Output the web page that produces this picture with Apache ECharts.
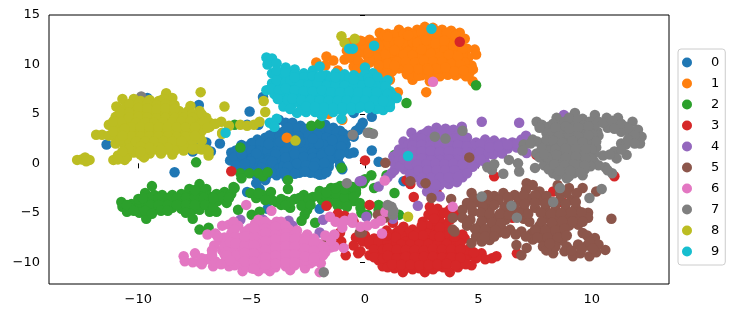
<!DOCTYPE html>
<html><head><meta charset="utf-8">
<script src="https://cdn.jsdelivr.net/npm/echarts@6/dist/echarts.min.js"></script>
<style>html,body{margin:0;padding:0;background:#fff}#c{width:746px;height:318px}</style>
</head><body><div id="c"></div>
<script>
const names = ['0','1','2','3','4','5','6','7','8','9'];
const colors = ['#1f77b4','#ff7f0e','#2ca02c','#d62728','#9467bd','#8c564b','#e377c2','#7f7f7f','#bcbd22','#17becf'];
const xTicks = [-10,-5,0,5,10];
const yTicks = [-10,-5,0,5,10,15];

const pts0 = [[-8.4,-0.9],[-9.6,6.6],[-7.33,5.9],[-5.09,5.24],[-4.5,6.7],[-7.3,2.1],[-7,2.1],[-6.8,1.2],[-6.4,2],[-7.6,1.2],[-8.5,1.2],[-11.4,1.9],
[-0.1,4.1],[-0.5,5.1],[0.3,4.7],[-0.5,1.1],[0.6,0.15],[-0.7,1],[-1.1,-0.2],[-3.8,4.4],[-3.5,4.1],[-4.7,3.9],[-5.2,3.9],[-0.4,3.3],[-0.2,3.7],[-0.6,2.9],[-0.5,2.7],[-0.3,3.4],[-1,-0.6],[-1.2,0.4],
[-3.2,4.1],[-2.85,3.8],[-2.5,3.4],[-2.1,3.7],[-1.75,3.9],[-1.4,3.6],[-1.1,3.3],
[-3.9,3.2],[-3.55,3.3],[-3.1,3.1],[-2.75,3],[-2.3,2.9],[-1.9,3.1],[-1.5,2.8],[-1.15,2.7],[-0.85,2.6],
[-4.75,2.4],[-4.4,2.6],[-4.05,2.5],[-3.65,2.4],[-3.25,2.3],[-2.8,2.5],[-2.45,2.2],[-2.05,2.4],[-1.6,2.1],[-1.2,2.2],[-0.85,1.9],
[-5.2,1.7],[-5.5,1.5],[-4.85,1.7],[-4.5,1.6],[-4.1,1.7],[-3.75,1.5],[-3.35,1.7],[-2.95,1.5],[-2.5,1.6],[-2.15,1.4],[-1.7,1.5],[-1.3,1.4],[-0.95,1.2],
[-5.9,1.1],[-5.6,0.9],[-5.2,0.9],[-4.85,0.8],[-4.45,0.9],[-4.05,0.7],[-3.7,0.8],[-3.3,0.8],[-2.9,0.7],[-2.5,0.8],[-2.1,0.7],[-1.75,0.6],[-1.35,0.7],
[-5.95,0.3],[-5.55,0.2],[-5.2,0.1],[-4.8,0],[-4.4,0.1],[-4,-0.1],[-3.6,0.1],[-3.2,-0.1],[-2.8,0],[-2.4,-0.1],[-2,-0.1],[-1.6,0],
[-5.4,-0.5],[-5,-0.6],[-4.6,-0.7],[-4.2,-0.7],[-3.8,-0.6],[-3.4,-0.7],[-3,-0.6],[-2.6,-0.6],[-2.2,-0.7],[-1.8,-0.7],
[-4.8,-1.2],[-4.35,-1.3],[-3.9,-1.2],[-3.5,-1.2],[-2.15,-1],[-1.85,-1.1],[-4.8,-2],[-4.4,-1.7],[-4.65,-2.6],[-5.2,-2.9],[-3.45,-1.5],[-4.3,-4.6],[0.3,1.3],[-2,-4.6],[1.7,-1.8]];
const fill0 = [[-3,3.55],[-2.65,3.5],[-2.3,3.6],[-1.95,3.5],[-1.55,3.4],[-1.25,3.1],[-0.95,3],
[-4.2,2.85],[-3.75,2.8],[-3.35,2.85],[-2.95,2.75],[-2.5,2.8],[-2.1,2.85],[-1.7,2.6],[-1.3,2.5],[-1,2.3],
[-5,2.05],[-4.6,2.05],[-4.2,2.1],[-3.85,2],[-3.45,2],[-3.05,2],[-2.65,2.05],[-2.25,1.9],[-1.85,1.9],[-1.4,1.8],[-1.05,1.7],
[-5.7,1.3],[-5.35,1.25],[-5,1.3],[-4.65,1.25],[-4.3,1.3],[-3.9,1.2],[-3.55,1.15],[-3.15,1.2],[-2.75,1.15],[-2.3,1.05],[-1.9,1.05],[-1.5,1.05],[-1.1,0.9],
[-5.75,0.65],[-5.4,0.55],[-5,0.5],[-4.65,0.45],[-4.25,0.5],[-3.85,0.35],[-3.5,0.45],[-3.1,0.35],[-2.7,0.4],[-2.3,0.3],[-1.9,0.3],[-1.55,0.35],
[-5.7,-0.2],[-5.2,-0.25],[-4.85,-0.3],[-4.4,-0.3],[-4,-0.4],[-3.6,-0.3],[-3.2,-0.35],[-2.8,-0.3],[-2.4,-0.35],[-2,-0.4],[-1.6,-0.35],
[-5,-0.95],[-4.6,-1],[-4.1,-0.95],[-3.7,-0.9],[-3.3,-1],[-2.9,-0.95],[-2.4,-0.95],[-2,-1.15],[-1.7,-0.9]];
const more0 = [[-3.4,3.6],[-3.75,2.2],[-4.25,1.95],[-2.85,2.15],[-3.15,2.55],[-2.05,2],[-2.3,2.5],[-1.45,2.35],[-4.8,1],[-5.05,0.2],[-4.25,0.25],[-3.95,0.95],[-3.5,0.6],[-3.1,0.95],[-2.7,0.65],[-2.3,0.55],[-1.9,0.85],[-1.55,1.3],[-4.5,-0.05],[-4.1,0.2],[-3.4,-0.35],[-3,0],[-2.6,-0.2],[-2.2,0.05],[-1.8,0.05],[-5.3,-0.05],[-4.55,-0.45],[-3.55,-0.95],[-3.1,-1.05],[-2.65,-0.85],[-2.25,-0.3],[-5.45,0.95],[-5.45,1.85]];

const pts1 = [[-2.15,10.2],[-1.7,10.8],[-1.4,10.4],[-1.75,9.9],[-1.2,9.4],[-0.9,10.5],[-0.67,12.2],[-0.8,11.4],[-0.55,10.6],[-0.5,9.8],[-0.2,9.2],[-0.95,8.9],[-0.3,11.9],[-1,7],
[-3.45,2.6],[-1,4.4],[-1.6,5],[0.9,7.9],[1.45,7.2],[1.1,8.45],[2.7,7.2],[2.86,8.3],[4.75,8.3],[-0.1,12.3],[0.2,12.5],
[0.65,13.2],[1,13.1],[1.5,13.5],[1.9,13.3],[2.3,13.5],[2.64,13.8],[3,13.7],[3.4,13.5],[3.8,13.4],[4.18,13.2],[4.4,12.6],
[0,11.5],[0.35,11.9],[0.7,12.4],[1.1,12.5],[1.5,12.7],[1.9,12.6],[2.3,12.8],[2.7,12.9],[3.1,12.7],[3.5,12.8],[3.9,12.5],[4.2,12.2],
[0.1,10.9],[0.5,11],[0.9,11.6],[1.3,11.8],[1.7,11.7],[2.1,11.9],[2.5,12],[2.9,11.8],[3.3,11.9],[3.7,11.6],[4.1,11.4],[4.5,11.6],[4.84,11.5],[4.9,11],
[0.2,10.2],[0.6,10.4],[1,10.6],[1.4,10.9],[1.8,10.8],[2.2,11],[2.6,11.1],[3,10.9],[3.4,11],[3.8,10.7],[4.2,10.5],[4.55,10.7],
[0.7,9.6],[1.1,9.8],[1.5,10],[1.9,10.1],[2.3,10.2],[2.7,10.2],[3.1,10],[3.5,10],[3.9,9.9],[4.3,9.8],[4.7,9.9],[4.76,9.5],
[0.8,9.1],[1.2,9.3],[1.75,9.5],[2.15,9.3],[2.55,9.4],[3.05,9.2],[3.45,9.3],[3.85,9.1],[4.25,9.1],[4.6,9.1],[4,8.9],[3.3,8.8],[2.1,8.45],[2.5,8.9],[1.85,9]];
const fill1 = [[0.85,12.95],[1.25,13],[1.7,13.05],[2.1,13],[2.5,13.2],[2.85,13.25],[3.2,13.1],[3.6,13.1],[4,12.9],
[0.5,12.2],[0.9,12],[1.3,12.2],[1.7,12.15],[2.1,12.3],[2.5,12.4],[2.9,12.3],[3.3,12.3],[3.7,12.1],[4.05,11.9],
[0.3,11.4],[0.7,11.5],[1.1,11.2],[1.5,11.3],[1.9,11.3],[2.3,11.45],[2.7,11.5],[3.1,11.4],[3.5,11.4],[3.9,11.1],[4.3,11],
[0.35,10.6],[0.8,10.9],[1.2,10.2],[1.6,10.4],[2,10.5],[2.4,10.6],[2.8,10.6],[3.2,10.5],[3.6,10.4],[4,10.2],[4.4,10.2],
[0.9,10],[1.3,9.6],[1.7,9.9],[2.1,9.75],[2.5,9.8],[2.9,9.65],[3.3,9.6],[3.7,9.5],[4.1,9.5],[4.5,9.5],
[1,9.2],[1.5,9.6],[2,8.9],[2.35,8.85],[2.75,9],[3.65,8.95],[4.45,8.8],
[-0.4,11],[-0.2,11.2],[-0.7,10.9],[-0.3,10.3],[0,10],[-0.35,9.5],[0,11.8],[-0.2,12.4]];
const more1 = [[0.6,11.9],[1,12.8],[1.5,12.3],[1.9,12.95],[2.3,12.2],[2.7,12.45],[3.1,12.15],[3.5,12.4],[3.9,11.9],[4.3,11.6],[0.5,10.7],[0.9,11],[1.3,11.45],[1.7,11],[2.1,10.95],[2.5,11.5],[2.9,11.1],[3.3,10.75],[3.7,11],[4.1,10.8],[1,10.1],[1.4,10.3],[1.8,10.25],[2.2,10.2],[2.6,10.4],[3,10.25],[3.4,10.25],[3.8,10.05],[4.2,9.95],[1.3,9.9],[1.9,9.55],[2.35,9.55],[2.75,9.6],[3.15,9.6],[3.55,9.7],[3.95,9.3],[4.35,9.4],[2.8,9.4],[0.2,10.6],[0.15,11.2],[0.6,9.9]];

const pts2 = [[-10.7,-4.4],[-10.75,-3.9],[-10.5,-4.9],[-10.3,-4.1],[-10,-4.4],[-10,-3.6],[-9.95,-5],[-9.7,-3],[-9.65,-4.1],[-9.65,-5.6],[-9.4,-2.3],[-9.3,-3.2],[-9.3,-3.9],[-9.3,-4.6],[-8.95,-3.2],[-8.9,-3.9],[-8.9,-4.4],[-8.5,-3.2],[-8.5,-3.8],[-8.5,-4.5],[-8.1,-3.1],[-8.1,-3.9],[-8.1,-4.6],[-7.75,-2.6],[-7.7,-3.4],[-7.7,-4.2],[-7.6,-4.7],[-7.3,-2.1],[-7.3,-3],[-7.3,-3.8],[-7.3,-4.7],[-7,-2.6],[-6.9,-3.3],[-6.85,-4.2],[-6.55,-3.1],[-6.5,-3.8],[-6.2,-2.9],[-6.1,-4],[-5.9,-3.1],[-5.75,-2.5],
[-7.6,-5.6],[-7.3,-6.7],[-6.9,-6.5],[-6.85,-4.9],[-6.55,-4.9],[-7.45,0.1],[-5.5,1.6],[-5.75,3.9],[-2.37,3.8],[-2,4],[-1.04,-0.45],[-5.5,-1],[-5.1,-1],[-4.7,-1],[-4.5,-1.3],[-4.3,-0.9],[-3.4,-1.7],[-3.4,-2.6],[-5.45,-1.5],[-5.8,-2.4],[-5.6,-4.7],[-5,-5.2],[-4.65,-4.9],[-2.66,-5.2],[-2.8,-5.8],[-2.55,-4.7],[-2.2,-6],[-1.85,-9.2],[-5.05,-3],[-4.8,-3.5],[-4.5,-3.2],[-4.15,-2.9],[-3.9,-3.9],[-3.5,-3.8],[-3.1,-3.6],[-2.7,-3.9],[-2.3,-3.4],[-2.7,-3.2],[-2,-2.8],[-1.9,-3.7],[-1.5,-2.5],[-1.5,-3.4],[-1.1,-2.3],[-1.1,-3],[-1.2,-3.8],[-0.8,-2.2],[-0.7,-3.2],[-0.4,-3],[-0.5,-3.8],[-0.9,-4],[-3.7,-4.2],[-3.3,-4.5],[-0.4,-2.7],[0.28,-1.2],[0,-1.6],[-0.1,-2],[1.3,-3],[-0.23,-4],[0.6,-4.2],[0.6,-4.7],[-0.16,-5],[1.5,-5.2],[0.95,-1.2],[0.2,3.1],[4.9,7.9],[1.83,6.1],[1.3,0.85],[0.1,-5.2],[0.4,-2.5]];
const fill2 = [[-9.5,-3.5],[-9.1,-3.5],[-8.7,-3.5],[-8.3,-3.5],[-7.9,-3.5],[-7.5,-3.4],[-7.1,-3.5],
[-10.5,-4.2],[-9.8,-3.5],[-9.45,-4.2],[-9.1,-4.2],[-8.7,-4.2],[-8.3,-4.2],[-7.9,-4.2],[-7.5,-4.2],[-7.05,-4.2],[-6.7,-4.4],
[-10.2,-4.8],[-9.7,-4.8],[-9.4,-5.1],[-9,-4.8],[-8.7,-4.8],[-7.9,-5],[-7.5,-2.7],[-6.3,-3.4],[-6.7,-3.5],[-6,-3.5],
[-4.1,-3.7],[-3.7,-3.6],[-3.3,-3.9],[-2.9,-3.5],[-2.5,-3.6],[-2.1,-3.3],[-1.7,-3.3],[-1.3,-3],[-0.9,-3.4],[-1.7,-2.9],[-0.9,-2.6],[-0.55,-2.4],[-1.3,-2.5],[-0.5,-3.4],[-3.5,-4.2],[-2.8,-4.3],[-2.4,-4.2],[-1.6,-4],[-1.2,-4.3],[-0.8,-4.4],[-0.2,-4.5],[-4.7,-3],[-4.4,-3.7]];

const pts3 = [[-5.9,-0.8],[-1.7,-4.3],[-0.3,-9.1],[0,0.3],[0.2,-4.2],[2.15,-3.4],[1.83,-1.7],[5.7,-1.3],[7.56,0.86],[4.18,12.3],[6.7,-9.1],[4.4,-7.6],[11,-1.3],[3.15,-2.85],[6.5,-5.5],[8.7,-3.9],[8.3,-2.85],[2,-2.1],
[-1.2,-5.1],[-0.9,-5.3],[-0.5,-5.9],[-1.35,-7.3],[-1.05,-7.9],[-0.85,-9.3],[-0.4,-7.5],[-0.1,-7.9],[-0.5,-8.3],[-0.2,-8.9],[-1.1,-7],
[2.86,-4.4],[3.2,-4.6],[3.74,-4.7],[4.1,-5.2],[2.8,-5.2],[3.3,-5.3],[3.75,-5.7],[2.55,-5.9],[3,-6],[3.4,-6.1],[1.23,-6],[1.7,-6.4],[2.1,-6.7],[2.5,-6.7],[3,-6.8],[3.45,-6.9],[3.9,-6.9],[4.3,-7.2],[0.95,-6.8],[1.4,-7],[0,-7.3],[0.4,-7.6],[0.8,-7.5],[1.2,-7.7],[1.6,-7.7],[2,-7.5],[2.4,-7.7],[2.8,-7.5],[3.2,-7.7],[3.6,-7.6],[4,-7.8],
[0.2,-8.2],[0.6,-8.3],[1,-8.3],[1.4,-8.5],[1.8,-8.4],[2.2,-8.4],[2.6,-8.5],[3,-8.3],[3.4,-8.5],[3.8,-8.4],[4.2,-8.5],[4.6,-8.6],[0.2,-9.3],[0.6,-9.1],[1,-9.1],[1.4,-9.3],[1.8,-9.2],[2.2,-9.3],[2.6,-9.2],[3,-9.2],[3.4,-9.3],[3.8,-9.2],[4.2,-9.3],[4.6,-9.3],[5.14,-9.1],[5.6,-9.6],[5.8,-9.4],[5.3,-9.7],[4.9,-9.6],[0.6,-9.8],[1,-10],[1.4,-10],[1.8,-10],[2.2,-10.1],[2.6,-10],[3,-10],[3.4,-10],[3.8,-9.9],[4.2,-10.1],[4.7,-10.3],[0.78,-10.4],[1.67,-11],[1.3,-10.6],[2.1,-10.7],[2.64,-11],[3,-10.7],[3.45,-10.5],[3.74,-11],[4.1,-10.5]];
const fill3 = [[3,-4.9],[3.5,-5],[3.05,-5.6],[3.6,-6.4],[2.75,-6.3],[1.9,-7.1],[2.3,-7.1],[2.75,-7.1],[3.2,-7.2],[3.7,-7.3],[1.15,-7.2],[1.6,-7.3],
[0.2,-7.9],[0.6,-7.9],[1,-7.9],[1.4,-8],[1.8,-7.9],[2.2,-8],[2.6,-8.1],[3,-7.9],[3.4,-8],[3.8,-8],[4.2,-8.1],
[0.4,-8.7],[0.8,-8.7],[1.2,-8.9],[1.6,-8.8],[2,-8.9],[2.4,-8.8],[2.8,-8.8],[3.2,-8.9],[3.6,-8.8],[4,-8.9],[4.4,-8.9],[4.8,-9],
[0.4,-9.5],[0.8,-9.6],[1.2,-9.6],[1.6,-9.6],[2,-9.7],[2.4,-9.6],[2.8,-9.6],[3.2,-9.6],[3.6,-9.6],[4,-9.6],[4.4,-9.7],
[1,-10.5],[1.5,-10.4],[1.9,-10.5],[2.4,-10.6],[2.8,-10.5],[3.2,-10.4],[3.6,-10.4],[4,-9.9],[4.45,-10.2]];
const more3 = [[1.5,-6.8],[2.5,-6.3],[3.3,-6.5],[3.05,-7.35],[2.55,-7.3],[2.15,-7.35],[1.35,-7.45],[0.95,-7.3],[1.6,-8.2],[2,-8.2],[2.4,-8.2],[2.8,-8.15],[3.2,-8.2],[3.6,-8.15],[1,-8.6],[1.4,-8.7],[1.8,-8.75],[2.2,-8.75],[2.6,-8.8],[3,-8.65],[3.4,-8.7],[3.8,-8.7],[4.2,-8.75],[1,-9.35],[1.4,-9.6],[1.8,-9.45],[2.2,-9.5],[2.6,-9.45],[3,-9.45],[3.4,-9.55],[3.8,-9.5],[4.2,-9.55],[1.2,-10.2],[1.6,-10.25],[2,-10.25],[2.4,-10.3],[2.8,-10.25],[3.2,-10.2],[3.6,-10.15],[4,-10.3],[3.3,-7.4],[3.95,-7.4]];

const pts4 = [[5.15,4.2],[6.8,4.1],[8.77,4.9],[2.05,3.1],[4.27,3.7],[7.13,1.05],[2.33,-4.3],[3.3,-3.36],[2.74,-2.85],[1.23,-5.6],[0.6,-2.35],[-0.14,-1.77],[0.06,-5.4],[1.17,-1],[-5.5,-5.7],[-3.37,-5.8],[-1.85,-5.7],[-3.2,-6.3],[-4.5,-5.7],[-2,-7],[-0.23,-1.8],[1.23,-4.8],[1.3,-0.7],[1,-1.4],
[2.8,3.3],[3.15,3.6],[3.55,3.5],[3.9,3.4],[2.5,2.9],[2.9,2.8],[3.3,2.9],[3.7,2.8],[4.1,2.9],[4.5,2.6],[1.7,2.2],[2.1,2.2],[2.5,2.2],[2.9,2.1],[3.3,2.2],[3.7,2.1],[4.1,2.2],[4.5,2],[4.9,2.1],[5.3,2.4],[5.7,2.3],[6.1,2.1],[6.5,2.1],[6.9,2.4],[7.1,2.8],[1.5,1.4],[1.9,1.5],[2.3,1.4],[2.7,1.5],[3.1,1.4],[3.5,1.5],[3.9,1.4],[4.3,1.4],[4.7,1.5],[5.1,1.6],[5.5,1.3],[5.9,1.4],[6.3,1.5],[6.7,1.6],[1.25,0.7],[1.65,0.8],[2.05,0.7],[2.45,0.8],[2.85,0.6],[3.25,0.7],[3.65,0.8],[4.05,0.7],[4.45,0.7],[4.85,0.8],[5.25,0.6],[5.65,0.9],[6.05,1],[1.3,0],[1.7,0.1],[2.1,-0.1],[2.5,0.1],[2.9,-0.1],[3.3,0],[3.7,-0.1],[4.1,0],[4.5,-0.1],[4.9,0],[5.3,0.1],[1.75,-0.6],[2.15,-0.8],[2.55,-0.6],[2.95,-0.8],[3.35,-0.7],[3.75,-0.7],[4.15,-0.8],[4.55,-0.6],[2.3,-1.4],[2.7,-1.5],[3.1,-1.4],[3.5,-1.5],[3.9,-1.3],[4.3,-1.4],[2.5,-2],[2.9,-2.1],[3.3,-2.2],[3.7,-2.1],[4.05,-1.9],[3.05,-2.6]];
const fill4 = [[2.3,2.6],[2.7,2.6],[3.1,2.5],[3.5,2.5],[3.9,2.5],[4.3,2.4],[2.7,3.1],[3.35,3.2],[1.9,1.85],[2.3,1.8],[2.7,1.8],[3.1,1.8],[3.5,1.8],[3.9,1.8],[4.3,1.7],[4.7,1.8],[5.1,1.95],[5.5,1.85],[5.9,1.85],[6.3,1.8],[6.7,2],
[1.45,1.05],[1.85,1.1],[2.25,1.05],[2.65,1.1],[3.05,1.05],[3.45,1.1],[3.85,1.05],[4.25,1.05],[4.65,1.15],[5.05,1.15],[5.45,1],
[1.5,0.4],[1.9,0.35],[2.3,0.4],[2.7,0.35],[3.1,0.35],[3.5,0.35],[3.9,0.35],[4.3,0.35],[4.7,0.35],[5.1,0.4],
[1.55,-0.3],[1.95,-0.4],[2.35,-0.35],[2.75,-0.4],[3.15,-0.35],[3.55,-0.4],[3.95,-0.4],[4.35,-0.4],[4.75,-0.35],
[2,-1.1],[2.5,-1.05],[2.9,-1.1],[3.3,-1.05],[3.7,-1.05],[4.1,-1.05],[4.5,-1],[2.7,-1.85],[3.1,-1.8],[3.5,-1.85],[3.9,-1.7]];
const more4 = [[2.5,2.5],[2.9,2.45],[3.3,2.55],[3.7,2.45],[4.1,2.55],[2.1,1.8],[2.5,1.85],[2.9,1.8],[3.3,1.85],[3.7,1.75],[4.1,1.85],[4.5,1.7],[2.1,1.25],[2.5,1.2],[2.9,1.25],[3.3,1.15],[3.7,1.2],[4.1,1.1],[4.5,1.15],[1.7,0.45],[2.1,0.4],[2.5,0.5],[2.9,0.3],[3.3,0.35],[3.7,0.4],[4.1,0.35],[4.5,0.35],[1.95,-0.1],[2.3,-0.1],[2.7,-0.1],[3.1,0],[3.5,-0.1],[3.9,-0.05],[4.3,-0.1],[2.35,-0.75],[2.75,-0.7],[3.15,-0.7],[3.55,-0.7],[3.95,-0.7],[2.5,-1.45],[2.9,-1.45],[3.3,-1.45],[3.7,-1.4],[4.1,-1.35],[3.1,-2.15],[5.5,1.6],[5.9,1.7],[6.3,1.9]];

const pts5 = [[10.87,-5.6],[10.2,-2.85],[4.6,0.6],[0.9,0.05],[2,-1.8],[2.67,-2],[2.93,-3.5],[3.8,-3.6],[3.87,-5.5],[3.87,-6.7],[3.95,-6.9],[4.7,-8.05],[-0.13,-7],[0.87,-5.5],[0.57,-5.2],[-1.7,-7.5],[-0.23,-7],[0.33,8.35],
[7.13,-2],[7.4,-2.2],[7.7,-2.85],[6.1,-3],[4.7,-3],[8.6,-3],[9.6,-2.5],[9,-2.5],[8.5,-2.2],[7.1,-2.7],[6.6,-3.2],[5.7,-3.3],
[4.5,-4],[5,-3.9],[5.45,-3.9],[5.9,-3.7],[6.35,-4],[6.8,-3.8],[7.25,-3.6],[7.75,-3.7],[8.2,-3.9],[9.1,-3.7],[4.3,-4.7],[4.75,-4.9],[5.5,-4.7],[6.1,-4.9],[6.5,-4.7],[7,-4.6],[7.5,-4.5],[7.95,-4.6],[8.4,-4.7],[8.85,-4.6],[9.3,-4.5],[9.84,-5],[4.3,-5.5],[4.65,-5.7],[5.3,-5.5],[5.75,-5.6],[6.2,-5.7],[8,-5.5],[8.45,-5.6],[8.9,-5.4],[9.35,-5.5],[9.84,-5.5],[7,-5.6],[7.25,-5.9],[4.5,-6.3],[5.1,-6.2],[5.55,-6.4],[6,-6.5],[6.4,-6.7],[7.7,-6.3],[8.15,-6.5],[8.6,-6.3],[9,-6.3],[9.4,-6.2],[5,-7],[5.45,-7.1],[5.9,-7],[6.9,-6.9],[7.35,-7.1],[7.8,-7.1],[8.25,-7.2],[8.7,-7],[9.6,-7.05],[9.8,-7.3],[4.9,-7.4],[5.5,-7.75],[5.15,-7.9],[7.4,-7.7],[7.85,-7.8],[8.3,-7.9],[8.7,-7.8],[10.14,-7.55],[10.3,-8.2],[9.8,-8.3],[9.4,-8.2],[8.9,-8.4],[7.85,-8.4],[8.3,-9.1],[8.8,-8.9],[9.17,-9.4],[9.5,-9.1],[9.9,-9.4],[10.2,-9],[10.6,-8.75],[6.68,-8.25],[7.13,-8.55],[6.9,-9.3],[8,-8.8]];
const fill5 = [[5.2,-3.4],[5.4,-3.2],[6.3,-3.4],[7,-3.2],[7.5,-3.2],[8,-3.3],[8.9,-3],[9.35,-3],[4.8,-3.5],[8.6,-3.7],
[4.7,-4.4],[5.2,-4.4],[5.7,-4.2],[6.15,-4.4],[6.6,-4.3],[7.05,-4.1],[7.5,-4],[7.95,-4.1],[8.4,-4.2],[8.85,-4.1],[9.3,-3.9],
[5.1,-5],[5.5,-5.1],[5.95,-5.1],[6.35,-5.2],[6.8,-5.05],[7.2,-5.1],[7.75,-5],[8.2,-5.1],[8.65,-5.05],[9.1,-4.95],[9.55,-4.95],
[4.5,-6],[5.15,-5.85],[5.6,-6],[6,-6.05],[7.8,-5.9],[8.25,-6],[8.7,-5.85],[9.15,-5.85],[9.6,-5.9],
[4.85,-6.6],[5.3,-6.7],[5.75,-6.75],[6.2,-7.1],[6.65,-7.2],[7.1,-7.4],[7.5,-6.7],[7.95,-6.8],[8.4,-6.8],[8.8,-6.6],
[5.3,-7.4],[5.7,-7.4],[7.6,-7.5],[8.05,-7.5],[8.5,-7.5],[8.9,-7.3],[9.9,-7.9],[10.05,-8.6],[9.55,-8.7],[9.1,-8.8],[8.4,-8.4],[8.15,-8.1]];

const pts6 = [[-8,-9.4],[-7.95,-9.9],[-7.6,-10],[-7.3,-10],[-7.5,-9.1],[-7,-9.7],[-6.7,-10.4],[-6.6,-9.9],[-6.95,-7.2],[-6.6,-7.1],[-6.3,-6.3],[-6,-6.2],[-6.65,-8.3],[-6.35,-7.8],[-6.3,-8.8],[-6.1,-9.6],[-6,-10.4],[-5.9,-7.1],[-5.95,-8.3],[-5.9,-9.1],[-5.6,-6.3],[-5.5,-7.5],[-5.5,-8.4],[-5.55,-9.4],[-5.55,-10.2],[-5.4,-10.9],[-5.1,-6.6],[-5.05,-7.4],[-5.1,-8.2],[-5.05,-9],[-5.1,-9.9],[-5,-10.6],[-4.7,-5.7],[-4.65,-6.5],[-4.65,-7.4],[-4.6,-8.3],[-4.65,-9.2],[-4.65,-10.1],[-4.7,-10.9],[-4.2,-6.2],[-4.2,-7],[-4.2,-7.8],[-4.2,-8.7],[-4.2,-9.5],[-4.2,-10.2],[-4.2,-10.9],[-3.9,-5.9],[-3.75,-6.7],[-3.75,-7.6],[-3.75,-8.4],[-3.75,-9.2],[-3.75,-10],[-3.7,-5.9],[-3.35,-6.7],[-3.3,-7.4],[-3.3,-8.2],[-3.3,-9],[-3.3,-9.8],[-3.3,-10.8],[-3,-6.8],[-2.85,-7.6],[-2.9,-8.4],[-2.9,-9.2],[-2.9,-10],[-2.65,-10.6],[-2.55,-7.2],[-2.45,-7.9],[-2.45,-8.7],[-2.5,-9.5],[-2.4,-10.1],[-2.05,-8.1],[-2.05,-8.9],[-2.05,-9.7],[-1.95,-10.1],[-1.7,-8.6],[-1.5,-8.5],[-1.75,-9],[-1.35,-8.4],
[-5.24,-4.2],[-4.13,-4.8],[-2,-11],[-0.94,-8.55],[-1.75,-7.3],[-1.35,-7.2],[-1.5,-7.8],[-1.55,-5.4],[-1.3,-5.9],[-1,-6.5],[-0.9,-5.8],[-0.55,-6],[-0.2,-6.4],[0.1,-6.3],[0.45,-6.1],[0.7,-5.8],[-0.55,-5.5],[-5.8,-5.9],[0.87,-1.74],[0.75,-7.1],[3.87,-4.4],[0.9,-4.9],[3,8.25]];
const fill6 = [[-6.2,-7.5],[-6.2,-8.4],[-6.2,-9.2],[-6.2,-10],[-5.75,-6.7],[-5.75,-7.5],[-5.75,-8.8],[-5.75,-9.7],[-5.75,-10.3],[-5.3,-6.9],[-5.3,-7.8],[-5.3,-8.7],[-5.3,-9.5],[-5.3,-10.3],
[-4.85,-6.1],[-4.85,-7],[-4.85,-7.8],[-4.85,-8.7],[-4.85,-9.5],[-4.85,-10.3],[-4.4,-5.9],[-4.4,-6.6],[-4.4,-7.4],[-4.4,-8.3],[-4.4,-9.1],[-4.4,-9.9],[-4.4,-10.6],
[-3.95,-6.4],[-3.95,-7.2],[-3.95,-8.1],[-3.95,-8.9],[-3.95,-9.8],[-3.95,-10.5],[-3.5,-6.3],[-3.5,-7.1],[-3.5,-7.9],[-3.5,-8.8],[-3.5,-9.6],[-3.5,-10.4],
[-3.1,-7.2],[-3.1,-8],[-3.1,-8.8],[-3.1,-9.6],[-3.1,-10.3],[-2.65,-7.5],[-2.65,-8.2],[-2.65,-9],[-2.65,-9.8],[-2.25,-7.6],[-2.25,-8.4],[-2.25,-9.2],[-2.25,-9.9],[-1.85,-8.4],[-1.85,-9.3],
[-6.75,-8.8],[-6.75,-9.3],[-7.2,-9.6],[-7.2,-10.2],[-6.35,-10.2],[-6.5,-7.4]];
const more6 = [[-5.95,-7.95],[-5.7,-8.1],[-5.7,-9.3],[-5.3,-8.25],[-5.3,-9.05],[-5.3,-9.9],[-5.3,-7.4],[-4.9,-7.4],[-4.9,-8.25],[-4.9,-9.1],[-4.9,-9.95],[-4.4,-7],[-4.4,-7.85],[-4.4,-8.7],[-4.4,-9.5],[-3.95,-7.65],[-3.95,-8.5],[-3.95,-9.35],[-3.95,-10.15],[-3.5,-7.5],[-3.5,-8.35],[-3.5,-9.2],[-3.5,-10],[-3.1,-7.6],[-3.1,-8.4],[-3.1,-9.2],[-3.1,-10],[-2.65,-7.85],[-2.65,-8.6],[-2.65,-9.4],[-2.25,-8],[-2.25,-8.8],[-2.25,-9.55],[-4.9,-6.55],[-6.1,-8.95],[-6.1,-9.3],[-5.95,-9.8],[-4.9,-10.65],[-4.4,-10.25]];

const pts7 = [[7.57,4.2],[7.8,3.9],[8.1,3.7],[8.45,4.6],[8.8,4.2],[9.26,5.1],[9.6,4.5],[10.14,4.9],[10.3,4.2],[10.66,4.6],[11.16,4.6],[11,4],[11.8,4.2],[11.5,3.7],[12.04,3.4],[12.2,2.7],[12.13,2],[11.7,2.9],[11.3,3.2],[10.7,3.6],[9.2,3.9],[11.54,0.86],[11.3,2],[11.5,1.9],[11,1.2],[11.1,0.5],[10.5,0.8],[8,3.1],[8.45,3.3],[8.9,3.3],[9.35,3.2],[9.8,3.4],[10.25,3.2],[8.2,2.6],[8.65,2.4],[9.1,2.6],[9.55,2.4],[10,2.5],[10.3,2.8],[7,1.9],[7.4,2.4],[7.8,2],[8.1,1.9],[8.55,1.7],[9,1.8],[9.45,1.7],[9.9,1.8],[10.2,1.6],[7.57,1],[8,1],[8.4,1.1],[8.85,0.9],[9.3,1.1],[9.75,0.9],[10.1,1],[7.5,-0.46],[8,0.2],[8.4,0.2],[8.85,0.1],[9.3,0.3],[9.7,0.1],[10.1,0.2],[7.9,-0.2],[8.4,-0.5],[8.85,-0.6],[9.3,-0.5],[9.7,-0.6],[8.3,-1],[8.73,-1],[9.2,-1],[9.6,-1.2],[8.9,-1.5],[10.3,-0.2],[10.6,-0.4],[10.9,-1],[10.7,-0.7],
[8.6,-2.5],[8.3,-3.9],[9.9,-3.5],[10.44,-2.6],[6.46,-4.3],[6.7,-5.5],[5.15,-3.36],[6.1,-1.06],[6.8,-0.83],[5.6,-0.66],[5.4,-0.4],[5.7,-0.1],[6.35,0.35],[6.75,0],[6.95,1.3],[1.17,-4.4],[1.23,-5.2],[1,-4.2],[1.25,-4.8],[-1.82,-11],[-0.8,-2],[-0.54,2.9],[0.12,3.1],[0.35,3],[3.08,2.7],[3.55,2.5],[4.3,3.3],[-9.87,6.76]];
const fill7 = [[7.7,3.6],[8.3,4],[8.6,3.7],[9,4.6],[9.4,4.4],[9.9,4.2],[10.1,3.8],[10.5,4.1],[10.9,4.3],[11.3,4],[11.65,3.5],[11.9,2.8],[11.6,2.4],[11.9,2],[11,3.5],[9.65,3.8],
[8.25,3],[8.7,2.9],[9.15,3],[9.6,2.9],[10.05,2.9],[8.45,2.1],[8.9,2.2],[9.35,2.1],[9.8,2.1],[10.2,2.2],[7.6,2.2],[8,2.4],[7.3,2],[7.8,1.5],[8.2,1.4],[8.65,1.3],[9.1,1.4],[9.55,1.35],[10,1.4],[7.7,0.6],[8.2,0.6],[8.6,0.6],[9.05,0.5],[9.5,0.7],[9.95,0.55],[8.15,-0.15],[8.6,-0.2],[9.05,-0.2],[9.5,-0.2],[9.95,-0.3],[8.5,-1.2],[9,-1.3],[9.4,-0.8],[8.1,-0.6],[11.3,1.4],[10.8,0.9]];
const more7 = [[8.4,3.6],[8.85,3.75],[9.4,3.6],[9.85,3.75],[8.55,2.75],[9,2.9],[9.4,2.7],[9.85,2.85],[8.3,2.25],[8.7,2.1],[9.15,2.25],[9.6,2.1],[8.4,1.45],[8.85,1.5],[9.3,1.45],[9.75,1.45],[8.05,0.6],[8.45,0.85],[8.85,0.55],[9.3,0.7],[9.75,0.5],[8.35,-0.15],[8.8,-0.25],[9.25,-0.15],[9.7,-0.25],[8.6,-0.75],[9.05,-0.75],[9.5,-0.9],[7.9,0.9],[9,3.5]];

const pts8 = [[-12.7,0.35],[-12.5,0.4],[-12.35,0.6],[-12.15,0.35],[-12.3,0.2],[-11.1,0.35],[-10.9,0.8],[-10.6,0.35],[-10.5,0.6],[-10.2,1.1],[-9.9,0.9],[-9.5,1],[-9,1],[-8.5,0.9],[-8,1.3],
[-11.86,2.9],[-11.6,2.9],[-11.3,2.8],[-11,2.6],[-10.9,3.3],[-10.5,2.9],[-10.1,2.7],[-9.7,2.7],[-9.3,2.8],[-8.9,2.9],[-8.5,2.7],[-8.1,2.8],[-7.7,2.7],[-7.3,2.8],[-11,2],[-10.6,1.9],[-10.2,1.8],[-9.8,1.8],[-9.4,1.9],[-9,1.8],[-8.6,1.7],[-8.2,1.8],[-7.8,1.9],[-7.4,1.5],[-7,1.4],[-6.9,0.8],
[-11.3,3.9],[-11,4.7],[-10.9,3.8],[-10.5,3.7],[-10.1,3.6],[-9.7,3.7],[-9.3,3.8],[-8.9,3.6],[-8.5,3.7],[-8.1,3.6],[-7.7,3.7],[-7.3,3.7],[-6.85,4.1],[-6.85,3.7],[-6.34,4.2],[-6,3.8],[-6.3,3],
[-10.97,5.75],[-10.6,4.7],[-10.2,4.6],[-9.8,4.6],[-9.4,4.7],[-9,4.5],[-8.6,4.6],[-8.2,4.7],[-7.8,4.5],[-7.4,4.7],[-7,4.6],[-7.3,5.3],
[-10.7,6.5],[-10.2,6.5],[-10.6,5.6],[-10.2,5.6],[-9.8,5.6],[-9.4,5.5],[-9,5.5],[-8.6,5.5],[-8.2,5.3],[-7.8,5.3],[-9.9,6.3],[-9.5,6.4],[-9.1,6.3],[-8.77,7.1],[-8.5,6.6],[-8.9,6.5],[-7.7,5.8],[-7.25,7.2],[-6.2,5.75],[-4.47,6.3],[-4.4,5.2],[-5.5,3.9],[-5.2,3.8],[-4.9,3.9],[-4.65,4.2],[-3.07,2.3],[-6.3,3.1],[-1.04,12.85],[-0.9,12.2],[-0.45,12.6],[1.9,-5.4],[-7.2,1.4],[-6.9,1.2]];
const fill8 = [[-10.4,6],[-10,6],[-9.6,6],[-9.2,5.9],[-8.8,6],[-8.4,5.9],[-10.8,5.2],[-10.4,5.15],[-10,5.1],[-9.6,5.1],[-9.2,5],[-8.8,5],[-8.4,5.05],[-8,5],[-7.6,5],[-7.2,4.95],
[-11.1,4.25],[-10.7,4.2],[-10.3,4.15],[-9.9,4.15],[-9.5,4.2],[-9.1,4.1],[-8.7,4.15],[-8.3,4.15],[-7.9,4.1],[-7.5,4.2],[-7.1,4.2],[-6.6,4],[-7.2,3.3],
[-11.1,3.25],[-10.7,3.3],[-10.3,3.2],[-9.9,3.2],[-9.5,3.25],[-9.1,3.25],[-8.7,3.2],[-8.3,3.2],[-7.9,3.2],[-7.5,3.2],[-6.95,3.6],
[-10.8,2.4],[-10.4,2.35],[-10,2.25],[-9.6,2.25],[-9.2,2.35],[-8.8,2.35],[-8.4,2.25],[-8,2.3],[-7.6,2.3],[-7.2,2.3],
[-10.4,1.5],[-10,1.4],[-9.6,1.45],[-9.2,1.4],[-8.8,1.4],[-8.4,1.3],[-8,1.8],[-7.6,1.4],[-10.7,1.2],[-9.75,0.6],[-10.9,0.4]];
const more8 = [[-10,5.6],[-9.6,5.55],[-9.2,5.5],[-8.8,5.55],[-8.4,5.5],[-10.4,4.65],[-10,4.7],[-9.6,4.65],[-9.2,4.55],[-8.8,4.6],[-8.4,4.6],[-8,4.6],[-7.6,4.6],[-10.1,4.1],[-9.7,4.15],[-9.3,4.1],[-8.9,4.15],[-8.5,4.15],[-8.1,4.2],[-7.7,4.2],[-10.3,3.65],[-9.9,3.65],[-9.5,3.65],[-9.1,3.65],[-8.7,3.65],[-8.3,3.65],[-7.9,3.65],[-7.5,3.65],[-10.3,2.75],[-9.9,2.7],[-9.5,2.75],[-9.1,2.75],[-8.7,2.75],[-8.3,2.7],[-7.9,2.75],[-7.5,2.8],[-10.1,2.2],[-9.7,2.2],[-9.3,2.2],[-8.9,2.25],[-8.5,2.2],[-8.1,2.25],[-9.9,1.7],[-9.5,1.6],[-9.1,1.6],[-8.7,1.6],[-10.6,3.5],[-10.7,2.8],[-9.9,1.2],[-9,1.35]];

const pts9 = [[-4.35,10.7],[-4.1,10.6],[-4.3,10],[-3.9,10.1],[-3.5,9.7],[-3.1,9.5],[-2.7,9.1],[-2.3,9.4],[-2,9.8],[-1.7,8.9],[-1.3,9.1],[-0.9,9],[-0.5,8.9],[0,9.7],[0.35,9.1],[0,9],[0.7,8.2],[1,8.4],[0.4,8.1],[-4.1,9.1],[-3.7,8.7],[-3.3,8.8],[-2.9,8.4],[-2.5,8.3],[-2.1,8.5],[-1.7,8.2],[-1.3,8.3],[-0.9,8.2],[-0.5,8.1],[-0.1,8.2],[-4.1,8.1],[-3.7,7.9],[-3.3,7.7],[-2.9,7.6],[-2.5,7.5],[-2.1,7.7],[-1.7,7.5],[-1.3,7.4],[-0.9,7.5],[-0.5,7.4],[-0.1,7.5],[0.3,7.4],[0.7,7.5],[1.1,7.3],[-4.35,7.4],[-4,7],[-3.6,6.9],[-3.2,6.9],[-2.8,6.7],[-2.4,6.8],[-2,6.7],[-1.6,6.7],[-1.2,6.6],[-0.8,6.7],[-0.4,6.6],[0,6.7],[0.4,6.8],[0.8,6.6],[1.2,6.9],[1.4,6.6],[-3.6,6.2],[-3.6,5.75],[-3.2,6],[-2.8,5.9],[-2.4,6],[-2,5.8],[-1.6,5.9],[-1.2,5.9],[-0.8,5.9],[-0.4,5.9],[0,6],[0.4,5.9],[0.8,5.9],[1.1,6.1],[-3,5.1],[-2.6,5.2],[-2.2,5.2],[-1.85,5.1],[-1.4,5.2],[-1,5.3],[-0.6,5.4],[0.5,5.5],[0.8,5.4],[1.1,5.7],
[-4.2,4.1],[-3.9,4.5],[-4,3.7],[-6.15,3.1],[-1.9,4.8],[-1.04,4.5],[-0.54,11.6],[2.93,13.6],[0.4,11.9],[-0.7,11.6],[1.9,0.75]];
const fill9 = [[-3.9,9.4],[-3.5,9.2],[-3.1,9],[-2.7,8.7],[-2.3,8.8],[-1.9,8.9],[-1.5,8.6],[-1.1,8.7],[-0.7,8.6],[-0.3,8.6],[0.15,8.6],[0.55,8.7],
[-3.9,8.4],[-3.5,8.2],[-3.1,8.2],[-2.7,7.95],[-2.3,7.9],[-1.9,8],[-1.5,7.85],[-1.1,7.9],[-0.7,7.85],[-0.3,7.85],[0.1,7.85],[0.5,7.8],[0.9,7.8],
[-4.15,7.6],[-3.8,7.4],[-3.4,7.3],[-3,7.15],[-2.6,7.1],[-2.2,7.2],[-1.8,7.1],[-1.4,7],[-1,7.05],[-0.6,7],[-0.2,7.05],[0.2,7.1],[0.6,7.05],[1,7],
[-3.85,6.5],[-3.4,6.4],[-3,6.3],[-2.6,6.35],[-2.2,6.25],[-1.8,6.25],[-1.4,6.25],[-1,6.25],[-0.6,6.3],[-0.2,6.3],[0.2,6.3],[0.6,6.3],[1,6.3],
[-3.3,5.5],[-2.8,5.5],[-2.4,5.5],[-2,5.45],[-1.6,5.5],[-1.2,5.55],[-0.8,5.6],[-0.3,5.6],[0.15,5.6],[0.65,5.6]];
const more9 = [[-3.3,8.35],[-2.9,8],[-2.5,7.9],[-2.1,8.1],[-1.7,7.85],[-1.3,7.85],[-0.9,7.85],[-0.5,7.8],[-0.1,7.9],[0.3,7.75],[-3.5,7.6],[-3.1,7.4],[-2.7,7.3],[-2.3,7.3],[-1.9,7.4],[-1.5,7.2],[-1.1,7.2],[-0.7,7.25],[-0.3,7.2],[0.1,7.25],[0.5,7.2],[-3.2,6.55],[-2.8,6.4],[-2.4,6.4],[-2,6.35],[-1.6,6.35],[-1.2,6.3],[-0.8,6.35],[-0.4,6.3],[0,6.35],[0.4,6.35],[0.8,6.3],[-2.6,5.75],[-2.2,5.7],[-1.8,5.65],[-1.4,5.6],[-1,5.65],[-0.6,5.65],[-0.2,5.7],[0.2,5.75],[-3.1,8.7],[-2,8.75],[-1.3,8.7],[-0.5,8.5],[0.2,8.2]];

const seriesPoints = [pts0.concat(fill0,more0),pts1.concat(fill1,more1),pts2.concat(fill2),pts3.concat(fill3,more3),pts4.concat(fill4,more4),pts5.concat(fill5),pts6.concat(fill6,more6),pts7.concat(fill7,more7),pts8.concat(fill8,more8),pts9.concat(fill9,more9)];
const fmt = v => String(v).replace('-', '\u2212');
const chart = echarts.init(document.getElementById('c'), null, {renderer:'canvas'});
chart.setOption({
  animation:false,
  color:colors,
  grid:{left:49,right:77,top:15,bottom:34,show:true,borderColor:'#000',borderWidth:1,backgroundColor:'#fff'},
  xAxis:{type:'value',min:-13.94,max:13.41,splitLine:{show:false},
    axisLine:{show:false},
    axisTick:{show:true,length:5,inside:false,lineStyle:{color:'#000'},customValues:xTicks},
    axisLabel:{color:'#000',fontFamily:'DejaVu Sans',fontSize:13,margin:9,customValues:xTicks,formatter:fmt}},
  yAxis:{type:'value',min:-12.2,max:15,splitLine:{show:false},
    axisLine:{show:false},
    axisTick:{show:true,length:5,lineStyle:{color:'#000'},customValues:yTicks},
    axisLabel:{color:'#000',fontFamily:'DejaVu Sans',fontSize:13,margin:9,customValues:yTicks,formatter:fmt}},
  legend:{orient:'vertical',left:678,top:49,padding:[7,6,7,4],itemWidth:30,itemHeight:10,itemGap:8,icon:'circle',
    backgroundColor:'rgba(255,255,255,0.8)',borderColor:'#ccc',borderWidth:1,borderRadius:3,
    textStyle:{color:'#000',fontFamily:'DejaVu Sans',fontSize:13,padding:[0,0,0,4]},data:names},
  series:names.map((n,i)=>({name:n,type:'scatter',data:seriesPoints[i],symbolSize:10.5,
    itemStyle:{color:colors[i],opacity:1},emphasis:{disabled:true},z:2+i}))
});
</script></body></html>
